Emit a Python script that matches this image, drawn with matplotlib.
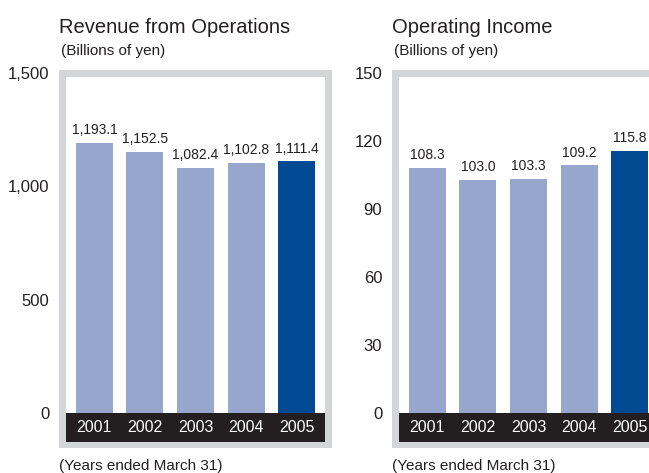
import matplotlib
matplotlib.use("Agg")
import matplotlib.pyplot as plt
import matplotlib.transforms as mtransforms
from matplotlib.patches import Rectangle

plt.rcParams['font.family'] = ['Liberation Sans', 'DejaVu Sans']

years = ['2001', '2002', '2003', '2004', '2005']
revenue = [1193.1, 1152.5, 1082.4, 1102.8, 1111.4]
op_income = [108.3, 103.0, 103.3, 109.2, 115.8]
rev_ticks = [0, 500, 1000, 1500]
inc_ticks = [0, 30, 60, 90, 120, 150]

W, H = 649, 473
light = '#97a6cd'
dark = '#004a93'
frame = '#d4d5d7'
band = '#231f20'
txt = '#231f20'

fig = plt.figure(figsize=(W / 100, H / 100), dpi=100)
fig.patch.set_facecolor('white')


def panel(left, values, ticks, top, title, fmt):
    # frame box spans y 70..448 px, x width 273 px
    ax = fig.add_axes([left / W, 1 - 448 / H, 273 / W, 378 / H])
    scale = 340 / top  # px per unit, 0 at y=413, top at y=73
    ax.set_ylim(-(448 - 413) / scale, top + 3 / scale)
    ax.set_xlim(-0.70, 4.70)
    ax.set_facecolor(frame)
    for s in ax.spines.values():
        s.set_visible(False)
    # white inner area
    ax.add_patch(Rectangle((7 / 273, 6 / 378), 259 / 273, 365 / 378,
                           transform=ax.transAxes, facecolor='white',
                           edgecolor='none', zorder=0.5))
    # black year band
    blend = mtransforms.blended_transform_factory(ax.transAxes, ax.transData)
    bh = 29 / scale
    ax.add_patch(Rectangle((7 / 273, -bh), 259 / 273, bh, transform=blend,
                           facecolor=band, edgecolor='none', zorder=2))
    colors = [light] * (len(values) - 1) + [dark]
    x = range(len(values))
    ax.bar(x, values, width=0.73, color=colors, zorder=1)
    for xi, v, yr in zip(x, values, years):
        ax.annotate(fmt(v), (xi, v), xytext=(0, 4), textcoords='offset points',
                    ha='center', va='bottom', fontsize=10, color=txt)
        ax.text(xi, -bh / 2, yr, ha='center', va='center', fontsize=11.5,
                color='white', zorder=3)
    ax.set_xticks([])
    ax.set_yticks(ticks)
    ax.set_yticklabels([f'{t:,}' for t in ticks])
    ax.tick_params(axis='y', length=0, pad=7, labelsize=12, labelcolor=txt)
    fig.text(left / W, 1 - 33 / H, title, fontsize=14.5, color=txt,
             va='baseline', ha='left')
    fig.text((left + 2) / W, 1 - 55 / H, '(Billions of yen)', fontsize=11,
             color=txt, va='baseline', ha='left')
    fig.text(left / W, 1 - 470 / H, '(Years ended March 31)', fontsize=11,
             color=txt, va='baseline', ha='left')
    return ax


panel(59, revenue, rev_ticks, 1500, 'Revenue from Operations',
      lambda v: f'{v:,.1f}')
panel(392, op_income, inc_ticks, 150, 'Operating Income',
      lambda v: f'{v:.1f}')

fig.savefig('out.png', dpi=100)
